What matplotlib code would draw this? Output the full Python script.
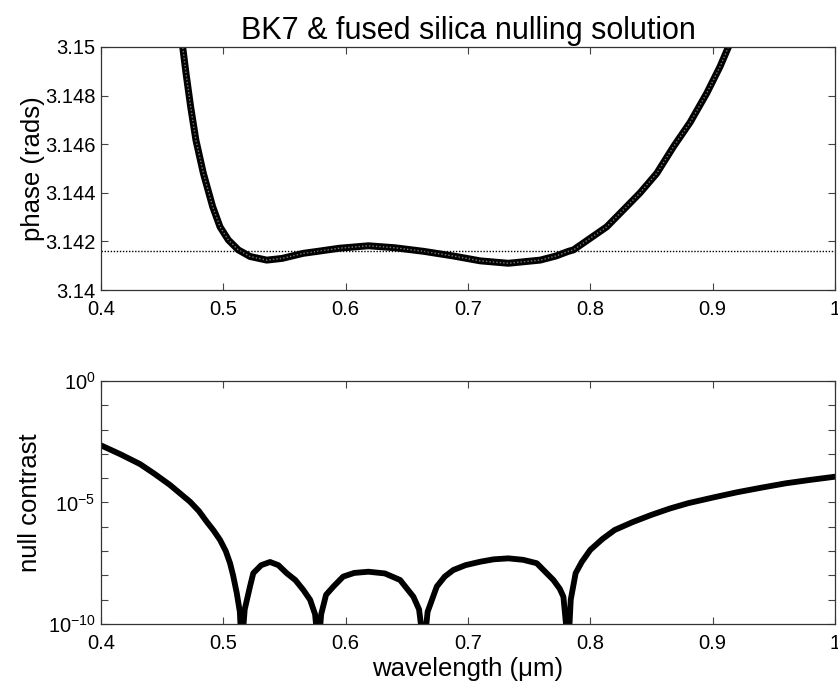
#!/usr/bin/env python3
"""BK7 & fused silica nulling solution: phase and null contrast vs wavelength."""

import numpy as np
import matplotlib
matplotlib.use("Agg")
import matplotlib.pyplot as plt

plt.rcParams["font.family"] = ["Liberation Sans", "DejaVu Sans"]
plt.rcParams["mathtext.fontset"] = "custom"
plt.rcParams["mathtext.rm"] = "Liberation Sans"
plt.rcParams["mathtext.it"] = "Liberation Sans:italic"

# phase curve
phase_wl = [0.463, 0.4668, 0.4695, 0.4733, 0.4776, 0.4837, 0.4913, 0.4973, 0.5041, 0.5123,
            0.5218, 0.5355, 0.548, 0.5654, 0.577, 0.595, 0.6186, 0.640, 0.664, 0.688,
            0.710, 0.733, 0.759, 0.772, 0.782, 0.7862, 0.8134, 0.8271, 0.8407, 0.8543,
            0.8680, 0.8816, 0.8952, 0.9061, 0.9129, 0.917]
phase = [3.1525, 3.1500, 3.14892, 3.14754, 3.14617, 3.1448, 3.14343, 3.1426, 3.14206, 3.14165,
         3.14138, 3.14123, 3.14130, 3.14151, 3.14159, 3.14172, 3.14182, 3.14174, 3.14159, 3.1414,
         3.1412, 3.1411, 3.14123, 3.1414, 3.14159, 3.14165, 3.1426, 3.1433, 3.1440, 3.1448,
         3.1459, 3.1469, 3.1481, 3.1492, 3.1500, 3.1504]
pi_level = 3.14159

# null contrast curve (log10 values)
null_wl = [0.400, 0.416, 0.4319, 0.444, 0.4564, 0.4728, 0.480, 0.4864, 0.492, 0.4973,
           0.502, 0.5055, 0.508, 0.511, 0.5135, 0.515, 0.5175, 0.5218, 0.5245, 0.531,
           0.5382, 0.545, 0.5518, 0.559, 0.5654, 0.571, 0.575, 0.5777, 0.580, 0.584,
           0.590, 0.598, 0.607, 0.6186, 0.632, 0.6445, 0.6554, 0.660, 0.664, 0.667,
           0.6745, 0.681, 0.688, 0.698, 0.7099, 0.721, 0.733, 0.745, 0.7562, 0.7698,
           0.775, 0.778, 0.782, 0.784, 0.788, 0.793, 0.800, 0.810, 0.820, 0.835,
           0.850, 0.865, 0.880, 0.900, 0.920, 0.940, 0.960, 0.980, 1.000]
null_log = [-2.65, -3.02, -3.42, -3.83, -4.28, -4.97, -5.35, -5.79, -6.15, -6.54,
            -7.00, -7.50, -8.00, -8.73, -9.50, -11.0, -9.40, -8.46, -7.91, -7.58,
            -7.45, -7.58, -7.91, -8.20, -8.60, -9.01, -9.60, -11.0, -9.60, -8.80,
            -8.46, -8.05, -7.90, -7.85, -7.92, -8.19, -8.88, -9.40, -11.0, -9.50,
            -8.46, -8.05, -7.78, -7.58, -7.44, -7.34, -7.30, -7.36, -7.50, -8.19,
            -8.55, -8.88, -11.0, -9.00, -7.91, -7.45, -6.95, -6.50, -6.13, -5.80,
            -5.51, -5.25, -5.03, -4.80, -4.58, -4.39, -4.21, -4.07, -3.94]

xticks = [0.4, 0.5, 0.6, 0.7, 0.8, 0.9, 1.0]
xticklabels = ["0.4", "0.5", "0.6", "0.7", "0.8", "0.9", "1"]
phase_ticks = [3.14, 3.142, 3.144, 3.146, 3.148, 3.15]
phase_ticklabels = ["3.14", "3.142", "3.144", "3.146", "3.148", "3.15"]


def style_axes(ax):
    ax.tick_params(direction="in", length=5, width=0.8, top=True, right=True,
                   labelsize=14.5, color="#444444")
    ax.tick_params(axis="x", pad=7)
    ax.tick_params(axis="y", pad=4)
    ax.tick_params(which="minor", length=0)
    for s in ax.spines.values():
        s.set_linewidth(0.9)
        s.set_color("#333333")


fig = plt.figure(figsize=(8.38, 6.90), dpi=100)
ax1 = fig.add_axes([0.1205, 0.5797, 0.8759, 0.3522])
ax2 = fig.add_axes([0.1205, 0.0957, 0.8759, 0.3522])

# top: phase (thick marker band with a grey core)
ax1.plot(phase_wl, phase, color="black", lw=5.0, solid_capstyle="round",
         solid_joinstyle="round")
ax1.plot(phase_wl, phase, color="#7a7a7a", lw=1.0, ls=(0, (1, 1.5)))
ax1.axhline(pi_level, color="black", lw=1.0, ls=(0, (1, 1.2)))
ax1.set_xlim(0.4, 1.0)
ax1.set_ylim(3.14, 3.15)
ax1.set_xticks(xticks)
ax1.set_xticklabels(xticklabels)
ax1.set_yticks(phase_ticks)
ax1.set_yticklabels(phase_ticklabels)
ax1.set_ylabel("phase (rads)", fontsize=18.5, labelpad=0)
ax1.set_title("BK7 & fused silica nulling solution", fontsize=22, pad=6)
style_axes(ax1)

# bottom: null contrast
null_vals = [10.0 ** v for v in null_log]
ax2.semilogy(null_wl, null_vals, color="black", lw=4.2, solid_joinstyle="round")
ax2.set_xlim(0.4, 1.0)
ax2.set_ylim(1e-10, 1e0)
ax2.set_xticks(xticks)
ax2.set_xticklabels(xticklabels)
decades = np.arange(-10, 1)
ax2.set_yticks([10.0 ** d for d in decades])
ax2.set_yticklabels([rf"$10^{{{d}}}$" if d % 5 == 0 else "" for d in decades])
ax2.set_ylabel("null contrast", fontsize=18.5, labelpad=4)
ax2.set_xlabel("wavelength (\u03bcm)", fontsize=18.5, labelpad=3)
style_axes(ax2)

fig.savefig("out.png", dpi=100)
